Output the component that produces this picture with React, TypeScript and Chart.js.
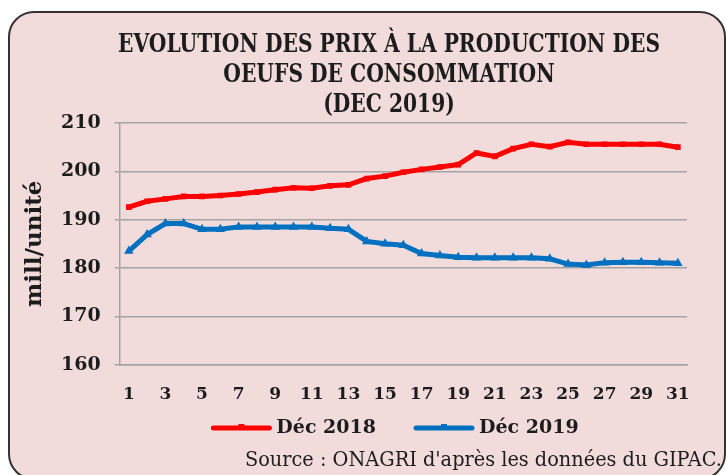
import React, { useEffect, useRef } from "react";
import { Chart, registerables } from "chart.js";

Chart.register(...registerables);

const days = ["1","2","3","4","5","6","7","8","9","10","11","12","13","14","15","16","17","18","19","20","21","22","23","24","25","26","27","28","29","30","31"];
const dec2018 = [192.6, 193.8, 194.3, 194.8, 194.8, 195.0, 195.3, 195.7, 196.2, 196.6, 196.5, 197.0, 197.2, 198.5, 199.0, 199.8, 200.4, 200.9, 201.4, 203.8, 203.1, 204.7, 205.6, 205.1, 206.0, 205.6, 205.6, 205.6, 205.6, 205.6, 205.0];
const dec2019 = [183.5, 186.9, 189.2, 189.2, 188.0, 188.0, 188.5, 188.5, 188.5, 188.5, 188.5, 188.2, 188.0, 185.5, 185.0, 184.7, 183.0, 182.6, 182.2, 182.1, 182.1, 182.1, 182.1, 181.9, 180.8, 180.6, 181.1, 181.2, 181.2, 181.1, 181.0];
const seriesNames = ["Déc 2018", "Déc 2019"];
const titleLines = ["EVOLUTION DES PRIX À LA PRODUCTION DES", "OEUFS DE CONSOMMATION", "(DEC 2019)"];
const yAxisTitle = "mill/unité";
const sourceText = "Source : ONAGRI d'après les données du GIPAC.";

const TEXT = "#1c1c1c";
const GRID = "#a3a3a3";
const RED = "#ff0000";
const BLUE = "#0070c0";
const SERIF = '"DejaVu Serif", serif';

const decor = {
  id: "decor",
  afterDraw(chart: any) {
    const ctx = chart.ctx;
    ctx.save();
    ctx.fillStyle = TEXT;
    ctx.textAlign = "center";
    ctx.textBaseline = "middle";
    ctx.font = "bold 26px " + SERIF;
    const sx = 542 / ctx.measureText(titleLines[0]).width;
    titleLines.forEach((t, i) => {
      ctx.save();
      ctx.translate(389, 45 + i * 30);
      ctx.scale(sx, 1);
      ctx.fillText(t, 0, 0);
      ctx.restore();
    });

    // legend
    ctx.font = "bold 19px " + SERIF;
    const lineW = 60;
    const gapText = 5;
    const gapItem = 38;
    const widths = chart.data.datasets.map((d: any) => lineW + gapText + ctx.measureText(d.label).width);
    const total = widths.reduce((a: number, b: number) => a + b, 0) + gapItem * (widths.length - 1);
    let x = 395 - total / 2;
    const y = 428;
    chart.data.datasets.forEach((d: any, i: number) => {
      ctx.strokeStyle = d.borderColor;
      ctx.lineWidth = 5;
      ctx.lineCap = "round";
      ctx.beginPath();
      ctx.moveTo(x + 2, y);
      ctx.lineTo(x + lineW - 2, y);
      ctx.stroke();
      ctx.fillStyle = d.borderColor;
      ctx.fillRect(x + lineW / 2 - 3, y - 4, 6, 5);
      ctx.fillStyle = TEXT;
      ctx.textAlign = "left";
      ctx.fillText(d.label, x + lineW + gapText, y);
      x += widths[i] + gapItem;
    });

    ctx.font = "21px " + SERIF;
    ctx.textAlign = "right";
    ctx.fillStyle = TEXT;
    const sw = ctx.measureText(sourceText).width;
    ctx.save();
    ctx.translate(722, 461);
    ctx.scale(Math.min(1, 477 / sw), 1);
    ctx.fillText(sourceText, 0, 0);
    ctx.restore();
    ctx.restore();
  },
};

export default function App() {
  const ref = useRef<HTMLCanvasElement>(null);
  useEffect(() => {
    if (!ref.current) return;
    const chart = new Chart(ref.current, {
      type: "line",
      data: {
        labels: days,
        datasets: [
          {
            label: seriesNames[0],
            data: dec2018,
            borderColor: RED,
            backgroundColor: RED,
            borderWidth: 5,
            pointStyle: "rect",
            pointRadius: 4,
            pointBorderWidth: 0,
            tension: 0,
          },
          {
            label: seriesNames[1],
            data: dec2019,
            borderColor: BLUE,
            backgroundColor: BLUE,
            borderWidth: 5,
            pointStyle: "triangle",
            pointRadius: 5.5,
            pointBorderWidth: 0,
            tension: 0,
          },
        ],
      },
      options: {
        responsive: false,
        animation: false,
        layout: { padding: { left: 20, right: 39, top: 123, bottom: 58 } },
        plugins: {
          legend: { display: false },
          title: { display: false },
          tooltip: { enabled: false },
        },
        scales: {
          x: {
            offset: true,
            grid: { display: false },
            border: { display: true, color: GRID, width: 1.5 },
            ticks: {
              autoSkip: false,
              maxRotation: 0,
              padding: 12,
              color: TEXT,
              font: { family: SERIF, size: 17, weight: "bold" },
              callback: (_v: any, i: number) => (i % 2 === 0 ? days[i] : ""),
            },
          },
          y: {
            min: 160,
            max: 210,
            ticks: {
              stepSize: 10,
              padding: 14,
              color: TEXT,
              font: { family: SERIF, size: 19, weight: "bold" },
            },
            grid: { color: GRID, lineWidth: 1.5, tickLength: 5 },
            border: { display: true, color: GRID, width: 1.5 },
            title: {
              display: true,
              text: yAxisTitle,
              color: TEXT,
              font: { family: SERIF, size: 23, weight: "bold", lineHeight: 1 },
              padding: { top: 4, bottom: 0 },
            },
          },
        },
      },
      plugins: [decor],
    });
    return () => chart.destroy();
  }, []);
  return (
    <div style={{ position: "fixed", left: 0, top: 0, width: 726, height: 475, overflow: "hidden", background: "#fff" }}>
      <div
        style={{
          position: "absolute",
          left: 8,
          top: 11,
          width: 714,
          height: 465,
          border: "2px solid #333",
          borderRadius: 26,
          background: "#f2dcdb",
        }}
      />
      <canvas ref={ref} width={726} height={475} style={{ position: "absolute", left: 0, top: 0 }} />
    </div>
  );
}
